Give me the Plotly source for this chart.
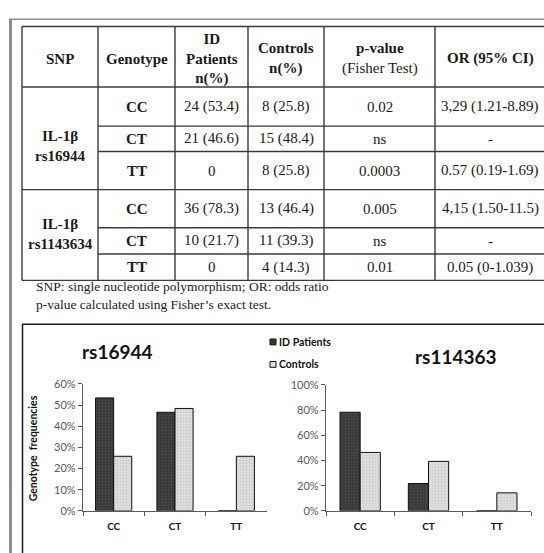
import plotly.graph_objects as go

W, H = 544, 553

# ---------------- table data ----------------
header_labels = ["<b>SNP</b>", "<b>Genotype</b>", "<b>ID</b><br><b>Patients</b><br><b>n(%)</b>",
                 "<b>Controls</b><br><b>n(%)</b>", "<b>p-value</b><br>(Fisher Test)", "<b>OR (95% CI)</b>"]
snp_labels = ["<b>IL-1β</b><br><b>rs16944</b>", "<b>IL-1β</b><br><b>rs1143634</b>"]
genotype_rows = ["CC", "CT", "TT", "CC", "CT", "TT"]
patients_n = ["24 (53.4)", "21 (46.6)", "0", "36 (78.3)", "10 (21.7)", "0"]
controls_n = ["8 (25.8)", "15 (48.4)", "8 (25.8)", "13 (46.4)", "11 (39.3)", "4 (14.3)"]
p_values = ["0.02", "ns", "0.0003", "0.005", "ns", "0.01"]
odds_ratio = ["3,29 (1.21-8.89)", "-", "0.57 (0.19-1.69)", "4,15 (1.50-11.5)", "-", "0.05 (0-1.039)"]
footnotes = ["SNP: single nucleotide polymorphism; OR: odds ratio",
             "p-value calculated using Fisher\u2019s exact test."]

# ---------------- chart data ----------------
categories = ["CC", "CT", "TT"]
rs16944_patients = [0.534, 0.466, 0.0]
rs16944_controls = [0.258, 0.484, 0.258]
rs114363_patients = [0.783, 0.217, 0.0]
rs114363_controls = [0.464, 0.393, 0.143]


def X(px):
    return px / W


def Y(py):
    return 1 - py / H


# layout geometry (pixels)
col_x = [22, 98, 175, 248, 324, 435, 552]
row_y = [20, 82, 122, 148, 187, 226, 253, 280]

SERIF = "Liberation Serif"
SANS = "Lato"
TFS = 15

shapes = []
annotations = []


def hline(y, x0, x1, color="#3a3a3a", width=1.4):
    shapes.append(dict(type="line", xref="paper", yref="paper", x0=X(x0), x1=X(x1),
                       y0=Y(y), y1=Y(y), line=dict(color=color, width=width)))


def vline(x, y0, y1, color="#3a3a3a", width=1.4):
    shapes.append(dict(type="line", xref="paper", yref="paper", x0=X(x), x1=X(x),
                       y0=Y(y0), y1=Y(y1), line=dict(color=color, width=width)))


def text(x, y, s, size=TFS, family=SERIF, color="#1a1a1a", xanchor="center", **kw):
    annotations.append(dict(xref="paper", yref="paper", x=X(x), y=Y(y), text=s,
                            showarrow=False, xanchor=xanchor, yanchor="middle",
                            font=dict(family=family, size=size, color=color), **kw))


# outer gray frame
vline(10.5, 12, 560, color="#8f8f8f", width=3)
hline(12.5, 9, 560, color="#8f8f8f", width=1.5)

# table grid
hline(row_y[0], col_x[0], col_x[-1])
hline(row_y[1], col_x[0], col_x[-1])
hline(row_y[4], col_x[0], col_x[-1])
hline(row_y[7], col_x[0], col_x[-1])
for r in (2, 3, 5, 6):
    hline(row_y[r], col_x[1], col_x[-1])
for c in col_x[:-1]:
    vline(c, row_y[0], row_y[-1])

# header texts
centers = [(col_x[i] + col_x[i + 1]) / 2 for i in range(6)]
centers[5] = 490
for i, lab in enumerate(header_labels):
    text(centers[i], (row_y[0] + row_y[1]) / 2 + 2, lab)

# SNP merged cells
text(centers[0], 142, snp_labels[0])
text(centers[0], 232, snp_labels[1])

for r in range(6):
    yc = (row_y[r + 1] + row_y[r + 2]) / 2
    text(centers[1], yc, "<b>" + genotype_rows[r] + "</b>")
    text(centers[2], yc, patients_n[r])
    text(centers[3], yc, controls_n[r])
    text(centers[4], yc, p_values[r])
    text(centers[5], yc, odds_ratio[r])

text(34, 295.5, "<br>".join(footnotes), size=13.5, xanchor="left", align="left")

# chart frame
hline(325, 22, 560, color="#1a1a1a", width=1.5)
vline(22.5, 325, 560, color="#1a1a1a", width=1.5)

# chart titles
text(117, 353, "<b>rs16944</b>", size=19, family=SANS, color="#111")
text(456, 358, "<b>rs114363</b>", size=19, family=SANS, color="#111")
text(33, 452, "<b>Genotype  frequencies</b>", size=10.5, family=SANS, color="#111", textangle=-90)

# legend (manual)
PAT_BG, PAT_FG = "#383838", "#5c5c5c"
CON_BG, CON_FG = "#dedede", "#bababa"
for yy, lab, col in ((343, "ID Patients", PAT_BG), (366, "Controls", CON_BG)):
    shapes.append(dict(type="rect", xref="paper", yref="paper", x0=X(270), x1=X(276),
                       y0=Y(yy + 3), y1=Y(yy - 3), fillcolor=col,
                       line=dict(color="#111", width=1)))
    text(277, yy, "<b>" + lab + "</b>", size=10.5, family=SANS, color="#111", xanchor="left")

pat_marker = dict(color=PAT_BG, line=dict(color="#111", width=1),
                  pattern=dict(shape=".", bgcolor=PAT_BG, fgcolor=PAT_FG, size=3, solidity=0.35))
con_marker = dict(color=CON_BG, line=dict(color="#111", width=1),
                  pattern=dict(shape=".", bgcolor=CON_BG, fgcolor=CON_FG, size=3, solidity=0.35))

fig = go.Figure()
fig.add_trace(go.Bar(x=categories, y=rs16944_patients, name="ID Patients", marker=pat_marker,
                     xaxis="x", yaxis="y", showlegend=False))
fig.add_trace(go.Bar(x=categories, y=rs16944_controls, name="Controls", marker=con_marker,
                     xaxis="x", yaxis="y", showlegend=False))
fig.add_trace(go.Bar(x=categories, y=rs114363_patients, name="ID Patients", marker=pat_marker,
                     xaxis="x2", yaxis="y2", showlegend=False))
fig.add_trace(go.Bar(x=categories, y=rs114363_controls, name="Controls", marker=con_marker,
                     xaxis="x2", yaxis="y2", showlegend=False))

axis_col = "#5a5a5a"
xcommon = dict(type="category", showline=True, linecolor=axis_col, linewidth=1.3,
               ticks="outside", tickson="boundaries", ticklen=4, tickcolor=axis_col,
               showgrid=False, zeroline=False, ticklabelstandoff=6,
               tickfont=dict(family=SANS, size=10, color="#111", weight="bold"))
ycommon = dict(showline=True, linecolor=axis_col, linewidth=1.3, ticks="outside", ticklen=4,
               tickcolor=axis_col, showgrid=False, zeroline=False, tickformat=".0%",
               tickfont=dict(family=SANS, size=11, color="#595959"))

fig.update_layout(
    width=W, height=H, margin=dict(l=0, r=0, t=0, b=0),
    paper_bgcolor="white", plot_bgcolor="white",
    barmode="group", bargap=0.41, bargroupgap=0,
    xaxis=dict(domain=[X(83), X(267)], anchor="y", **xcommon),
    yaxis=dict(domain=[Y(516), Y(386)], anchor="x", range=[0, 0.6], dtick=0.1, **ycommon),
    xaxis2=dict(domain=[X(326), X(531)], anchor="y2", **xcommon),
    yaxis2=dict(domain=[Y(516), Y(387)], anchor="x2", range=[0, 1.0], dtick=0.2, **ycommon),
    shapes=shapes, annotations=annotations,
)

fig.write_html("out.html", config={"displayModeBar": False},
               post_script="document.body.style.margin='0';")
